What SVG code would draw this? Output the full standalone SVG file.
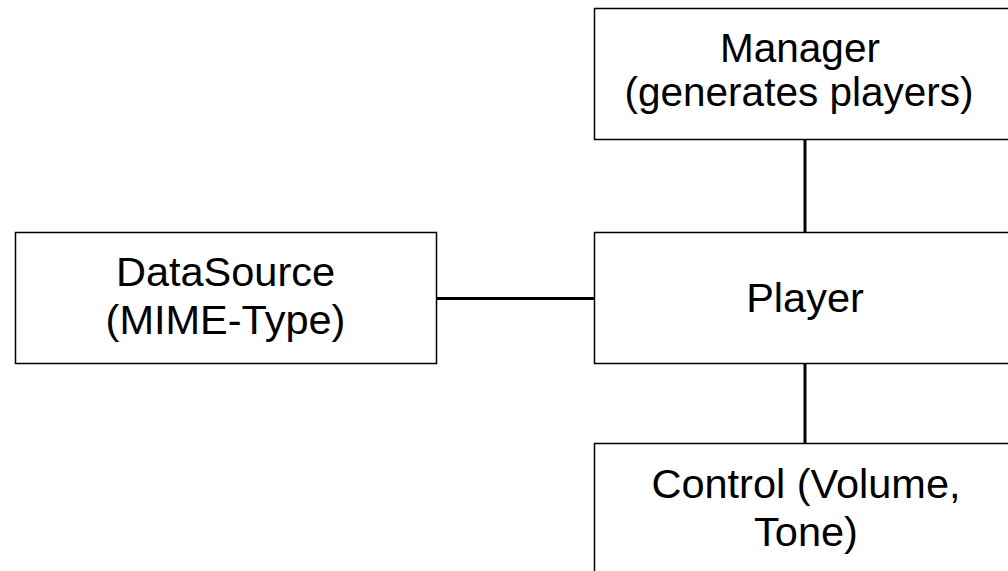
<svg xmlns="http://www.w3.org/2000/svg" width="1008" height="571" viewBox="0 0 1008 571">
<style>
.box{fill:#fff;stroke:#000;stroke-width:1.5}
.lbl{font-family:"Liberation Sans",Arial,sans-serif;font-size:41.5px;fill:#000;text-anchor:middle}
.sm{font-size:40.5px}
.conn{stroke:#000;stroke-width:3;fill:none}
</style>
<rect width="1008" height="571" fill="#fff"/>
<g id="connectors">
<line class="conn" x1="805" y1="140" x2="805" y2="232"/>
<line class="conn" x1="805" y1="364" x2="805" y2="443"/>
<line class="conn" x1="436" y1="298.5" x2="594" y2="298.5"/>
</g>
<g id="manager">
<rect class="box" x="594.5" y="8.5" width="430" height="131"/>
<text class="lbl sm" x="800" y="62">Manager</text>
<text class="lbl sm" x="799" y="106">(generates players)</text>
</g>
<g id="datasource">
<rect class="box" x="15.5" y="232.5" width="421" height="131"/>
<text class="lbl" x="225.5" y="286">DataSource</text>
<text class="lbl" x="225.5" y="334">(MIME-Type)</text>
</g>
<g id="player">
<rect class="box" x="594.5" y="232.5" width="430" height="131"/>
<text class="lbl" x="805" y="312">Player</text>
</g>
<g id="control">
<rect class="box" x="594.5" y="443.5" width="430" height="140"/>
<text class="lbl" x="806" y="498">Control (Volume,</text>
<text class="lbl" x="806" y="546">Tone)</text>
</g>
</svg>
